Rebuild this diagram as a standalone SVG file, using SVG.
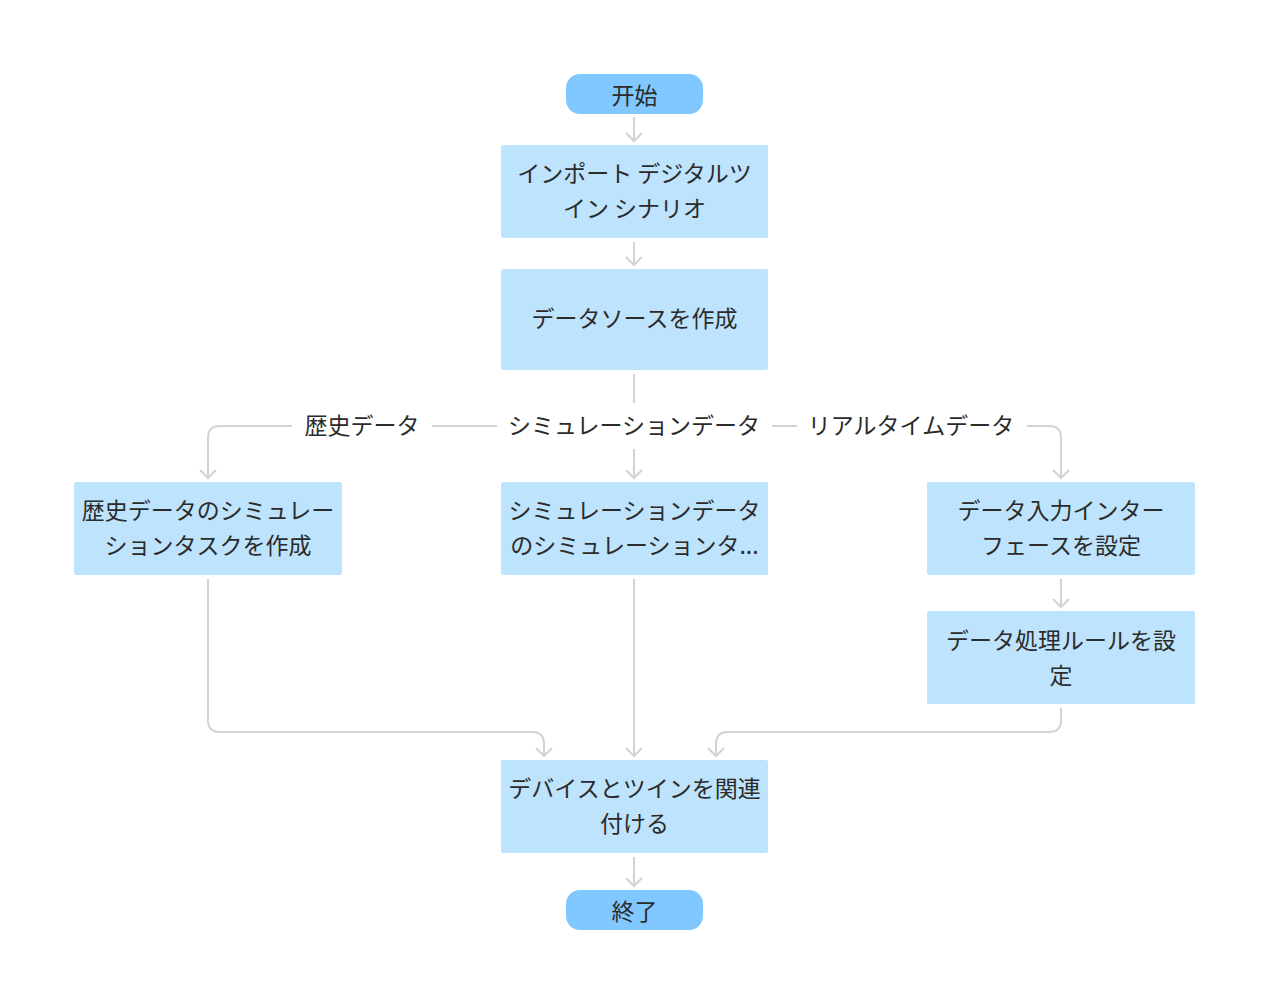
<svg xmlns="http://www.w3.org/2000/svg" width="1269" height="1005" viewBox="0 0 1269 1005">
<style>
text{font-family:"Noto Sans CJK JP","Noto Sans",sans-serif;font-size:23px;fill:#2b2b2b;text-anchor:middle}
.term{fill:#80c8ff}
.box{fill:#bee3fc}
.edge{fill:none;stroke:#d3d3d3;stroke-width:2}
.lbg{fill:#ffffff}
</style>
<defs>
<marker id="arr" viewBox="-10 -10 20 20" markerWidth="20" markerHeight="20" refX="0" refY="0" orient="auto" markerUnits="userSpaceOnUse">
<path d="M-8,-8 L0,0 L-8,8" fill="none" stroke="#d3d3d3" stroke-width="2"/>
</marker>
</defs>
<rect width="1269" height="1005" fill="#ffffff"/>
<g id="connectors">
<path class="edge" d="M634,117 V141" marker-end="url(#arr)"/>
<path class="edge" d="M634,242 V265" marker-end="url(#arr)"/>
<path class="edge" d="M634,374 V426 H220 Q208,426 208,438 V478" marker-end="url(#arr)"/>
<path class="edge" d="M634,374 V478" marker-end="url(#arr)"/>
<path class="edge" d="M634,374 V426 H1049 Q1061,426 1061,438 V478" marker-end="url(#arr)"/>
<path class="edge" d="M1061,579 V607" marker-end="url(#arr)"/>
<path class="edge" d="M208,579 V720 Q208,732 220,732 H532 Q544,732 544,744 V756" marker-end="url(#arr)"/>
<path class="edge" d="M634,579 V756" marker-end="url(#arr)"/>
<path class="edge" d="M1061,708 V720 Q1061,732 1049,732 H728 Q716,732 716,744 V756" marker-end="url(#arr)"/>
<path class="edge" d="M634,857 V886" marker-end="url(#arr)"/>
<rect class="lbg" x="292" y="403" width="140" height="46"/>
<text x="362" y="434">歴史データ</text>
<rect class="lbg" x="497" y="403" width="275" height="46"/>
<text x="634" y="434">シミュレーションデータ</text>
<rect class="lbg" x="797" y="403" width="230" height="46"/>
<text x="911" y="434">リアルタイムデータ</text>
</g>
<g id="start">
<rect class="term" x="566" y="74" width="137" height="40" rx="14"/>
<text x="634.5" y="104">开始</text>
</g>
<g id="import">
<rect class="box" x="501" y="145" width="267" height="93" rx="2"/>
<text x="634.5" y="182">インポート デジタルツ</text>
<text x="634.5" y="217">イン シナリオ</text>
</g>
<g id="datasource">
<rect class="box" x="501" y="269" width="267" height="101" rx="2"/>
<text x="634.5" y="327">データソースを作成</text>
</g>
<g id="hist">
<rect class="box" x="74" y="482" width="268" height="93" rx="2"/>
<text x="208" y="519">歴史データのシミュレー</text>
<text x="208" y="554">ションタスクを作成</text>
</g>
<g id="sim">
<rect class="box" x="501" y="482" width="267" height="93" rx="2"/>
<text x="634.5" y="519">シミュレーションデータ</text>
<text x="634.5" y="554">のシミュレーションタ...</text>
</g>
<g id="input">
<rect class="box" x="927" y="482" width="268" height="93" rx="2"/>
<text x="1061" y="519">データ入力インター</text>
<text x="1061" y="554">フェースを設定</text>
</g>
<g id="rules">
<rect class="box" x="927" y="611" width="268" height="93" rx="2"/>
<text x="1061" y="649">データ処理ルールを設</text>
<text x="1061" y="684">定</text>
</g>
<g id="link">
<rect class="box" x="501" y="760" width="267" height="93" rx="2"/>
<text x="634.5" y="797">デバイスとツインを関連</text>
<text x="634.5" y="832">付ける</text>
</g>
<g id="end">
<rect class="term" x="566" y="890" width="137" height="40" rx="14"/>
<text x="634.5" y="920">終了</text>
</g>
</svg>
